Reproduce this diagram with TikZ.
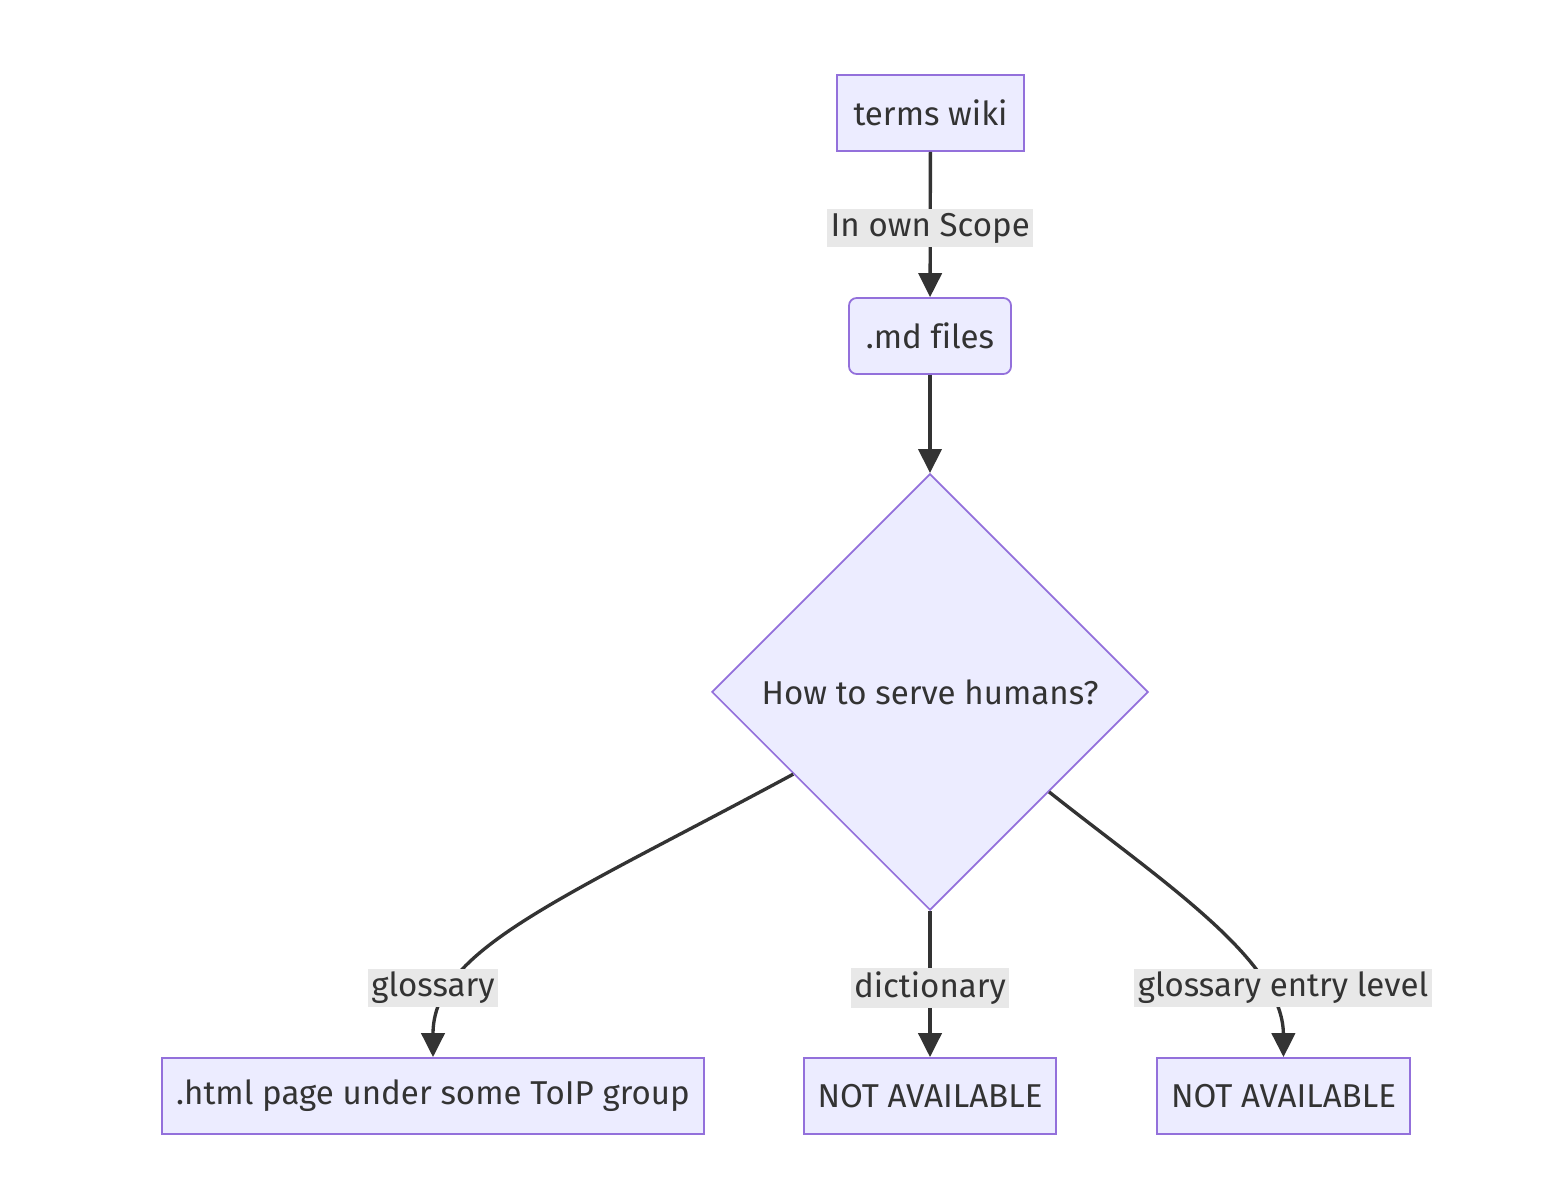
\documentclass[tikz,border=0pt]{standalone}
\usepackage{fontspec}
\setmainfont[Ligatures=CommonOff]{Fira Sans}
\usetikzlibrary{shapes.geometric}
\usetikzlibrary{arrows.meta}

\definecolor{nodefill}{HTML}{ECECFF}
\definecolor{nodeline}{HTML}{9370DB}
\definecolor{edgeline}{HTML}{333333}
\definecolor{labelfill}{HTML}{E8E8E8}

\tikzset{
	flowbox/.style={draw=nodeline, fill=nodefill, line width=0.5pt, text=edgeline,
		minimum height=0.76cm, inner sep=0pt},
	roundbox/.style={flowbox, rounded corners=2.2pt},
	decide/.style={diamond, draw=nodeline, fill=nodefill, line width=0.5pt, text=edgeline,
		minimum width=4.36cm, minimum height=4.36cm, inner sep=0pt, aspect=1},
	flow/.style={draw=edgeline, line width=0.95pt, -{Triangle[length=6.8pt,width=6.6pt]}},
	elabel/.style={fill=labelfill, text=edgeline, inner sep=1pt, minimum height=0.35cm}
}

\begin{document}
\begin{tikzpicture}[x=0.01cm, y=-0.01cm, font=\fontsize{9.4}{11}\selectfont]
		\useasboundingbox (0,0) rectangle (1560,1198);

		\node[flowbox, minimum width=1.87cm] (wiki) at (930.5,113) {terms wiki};
		\node[roundbox, minimum width=1.62cm] (md) at (930,336) {.md files};
		\node[decide] (serve) at (930,692) {How to serve humans?};

		\node[flowbox, minimum width=5.42cm] (html) at (433,1096) {.html page under some ToIP group};
		\node[flowbox, minimum width=2.52cm] (nadict) at (930,1096) {NOT AVAILABLE};
		\node[flowbox, minimum width=2.53cm] (naentry) at (1283.5,1096) {NOT AVAILABLE};

		\draw[flow] (wiki) -- node[elabel, yshift=-1pt] (lscope) {In own Scope} (md);
		\draw[flow] (md) -- (serve);

		\draw[flow] (serve.-149) .. controls (560,900) and (433,950) .. (html.north);
		\draw[flow] (serve.south) -- (nadict.north);
		\draw[flow] (serve.-40) .. controls (1160,880) and (1283,960) .. (naentry.north);

		\node[elabel] (lglos) at (433,988) {glossary};
		\node[elabel] (ldict) at (930,988) {dictionary};
		\node[elabel] (lentry) at (1283,988) {glossary entry level};
	\end{tikzpicture}
\end{document}
